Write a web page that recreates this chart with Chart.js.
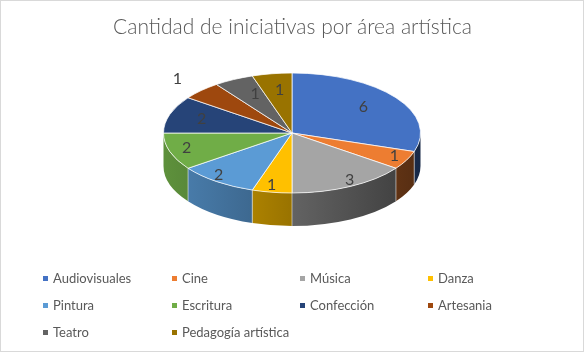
<!DOCTYPE html>
<html>
<head>
<meta charset="utf-8">
<script src="https://cdn.jsdelivr.net/npm/chart.js@4.4.0/dist/chart.umd.min.js"></script>
<style>
  body { margin: 0; background: #fff; font-family: Lato, "Open Sans", sans-serif; }
  #frame { position: absolute; left: 0; top: 0; width: 582px; height: 350px; border: 1px solid #d9d9d9; }
  #title { position: absolute; left: 0; width: 585px; top: 13px; text-align: center; font-size: 21px; font-weight: 300; color: #595959; }
  canvas { position: absolute; left: 0; top: 0; }
  #legend { position: absolute; left: 0; top: 0; }
  .item { position: absolute; font-size: 13px; color: #595959; white-space: nowrap; line-height: 16px; }
  .item i { position: absolute; left: -10px; top: 6px; width: 5px; height: 5px; }
</style>
</head>
<body>
<div id="frame"></div>
<canvas id="c" width="585" height="353"></canvas>
<div id="title">Cantidad de iniciativas por área artística</div>
<div id="legend"></div>
<script>
const categories = ["Audiovisuales", "Cine", "Música", "Danza", "Pintura", "Escritura", "Confección", "Artesania", "Teatro", "Pedagogía artística"];
const values = [6, 1, 3, 1, 2, 2, 2, 1, 1, 1];
const colors = ["#4472C4", "#ED7D31", "#A5A5A5", "#FFC000", "#5B9BD5", "#70AD47", "#264478", "#9E480E", "#636363", "#997300"];

function shade(hex, f) {
  const n = parseInt(hex.slice(1), 16);
  const r = Math.round(((n >> 16) & 255) * f), g = Math.round(((n >> 8) & 255) * f), b = Math.round((n & 255) * f);
  return `rgb(${r},${g},${b})`;
}

// squash the pie into an ellipse and give it a side wall
const pie3d = {
  id: "pie3d",
  beforeDatasetsDraw(chart, args, opts) {
    const ctx = chart.ctx;
    const arcs = chart.getDatasetMeta(0).data;
    const { x, y, outerRadius: r } = arcs[0].getProps(["x", "y", "outerRadius"], true);
    const k = opts.ry / r;
    const D = opts.depth / k;
    ctx.save();
    ctx.translate(x, opts.cy);
    ctx.scale(1, k);
    ctx.translate(-x, -y);
    arcs.forEach((arc, i) => {
      const p = arc.getProps(["startAngle", "endAngle"], true);
      const s = Math.max(p.startAngle, 0), e = Math.min(p.endAngle, Math.PI);
      if (e <= s) return;
      const g = ctx.createLinearGradient(x - r, 0, x + r, 0);
      g.addColorStop(0, shade(colors[i], 0.84));
      g.addColorStop(1, shade(colors[i], 0.36));
      ctx.beginPath();
      ctx.arc(x, y, r, s, e);
      ctx.arc(x, y + D, r, e, s, true);
      ctx.closePath();
      ctx.fillStyle = g;
      ctx.fill();
      if (s > 0) {
        ctx.beginPath();
        ctx.moveTo(x + r * Math.cos(s), y + r * Math.sin(s));
        ctx.lineTo(x + r * Math.cos(s), y + r * Math.sin(s) + D);
        ctx.strokeStyle = "rgba(255,255,255,0.7)";
        ctx.lineWidth = 1;
        ctx.stroke();
      }
    });
  },
  afterDatasetsDraw(chart, args, opts) {
    const ctx = chart.ctx;
    ctx.restore();
    const arcs = chart.getDatasetMeta(0).data;
    ctx.font = "16px Lato";
    ctx.fillStyle = "#404040";
    ctx.textAlign = "center";
    ctx.textBaseline = "middle";
    arcs.forEach((arc, i) => {
      const p = arc.getProps(["x", "startAngle", "endAngle", "outerRadius"], true);
      const m = (p.startAngle + p.endAngle) / 2;
      // rough perspective: far side labels sit nearer the middle
      let f = 0.8 + 0.08 * Math.sin(m);
      let fx = f * (1 + 0.15 * Math.sin(m));
      if (categories[i] === opts.outsideLabel) { f = 1.28; fx = 1.26; }
      const lx = p.x + fx * p.outerRadius * Math.cos(m);
      const ly = opts.cy + f * opts.ry * Math.sin(m);
      ctx.fillText(String(values[i]), lx, ly);
    });
  }
};

new Chart(document.getElementById("c"), {
  type: "pie",
  data: {
    labels: categories,
    datasets: [{
      data: values,
      backgroundColor: colors,
      borderColor: "#ffffff",
      borderWidth: 1
    }]
  },
  options: {
    responsive: false,
    animation: false,
    layout: { padding: { left: 163, right: 164, top: 10, bottom: 85 } },
    plugins: {
      legend: { display: false },
      title: { display: false },
      tooltip: { enabled: false },
      pie3d: { cy: 133, ry: 60, depth: 33, outsideLabel: "Artesania" }
    }
  },
  plugins: [pie3d]
});

// legend: 4 columns like the Excel one
const legend = document.getElementById("legend");
const colX = [53, 182, 310, 438];
const rowY = [270, 297, 324];
categories.forEach((name, i) => {
  const el = document.createElement("div");
  el.className = "item";
  el.style.left = colX[i % 4] + "px";
  el.style.top = rowY[Math.floor(i / 4)] + "px";
  el.innerHTML = `<i style="background:${colors[i]}"></i>${name}`;
  legend.appendChild(el);
});
</script>
</body>
</html>
